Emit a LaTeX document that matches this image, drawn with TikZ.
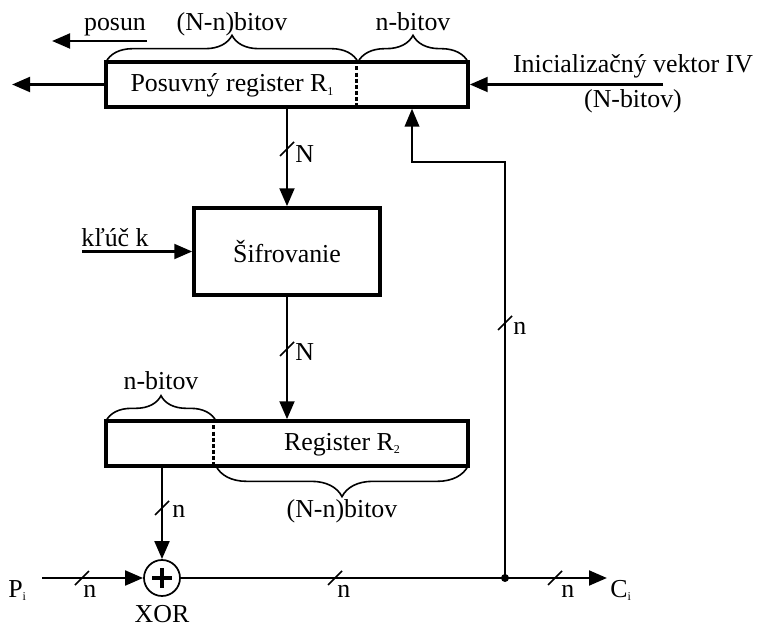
\documentclass[tikz,border=0pt]{standalone}
\usepackage{fontspec}
\setmainfont{Liberation Serif}
\usepackage{tikz}
\usetikzlibrary{arrows.meta,positioning,decorations.pathreplacing}
\tikzset{
  reg/.style={draw,line width=2.6pt,inner sep=0pt},
  arr/.style={-{Triangle[length=13.5pt,width=11pt]},line width=2.2pt},
  thinarr/.style={-{Triangle[length=13.5pt,width=11pt]},line width=1.4pt},
  brc/.style={decorate,decoration={brace,amplitude=#1},line width=1.2pt},
  txt/.style={font=\fontsize{19.4}{22}\selectfont,inner sep=0pt,anchor=base},
  tick/.style={line width=1.3pt}
}
\newcommand{\idx}[1]{\raisebox{-0.3ex}{\fontsize{9}{9}\selectfont #1}}
% width mark on a line: name, position, label offset, label
\newcommand{\bits}[4]{%
  \draw[tick,shift={(#2)}] (-7,7) -- (7,-7);
  \path[shift={(#2)}] (#3) node[txt,anchor=base west] (#1) {#4};}

\begin{document}
\begin{tikzpicture}[x=0.75pt,y=-0.75pt]
  \useasboundingbox (0,0) rectangle (763,630);
  \node[reg,minimum width=271.5pt,minimum height=33.75pt] (reg1) at (287,84.5) {};
  \node[reg,minimum width=139.5pt,minimum height=65.25pt] (sifr) at (287,251.5) {};
  \node[reg,minimum width=271.5pt,minimum height=33.75pt] (reg2) at (287,443.5) {};
  \node[draw,circle,line width=1.3pt,minimum size=27pt,inner sep=0pt] (xor) at (162,578) {};
  \draw[line width=3pt] (xor.center) ++(-10,0) -- ++(20,0) (xor.center) ++(0,-10) -- ++(0,20);

  \draw[line width=2.4pt,dash pattern=on 3pt off 1.6pt] (reg1.north west) ++(252,0) -- ++(0,45);
  \draw[line width=2.4pt,dash pattern=on 3pt off 1.6pt] (reg2.north west) ++(109,0) -- ++(0,45);

  \node[txt] (r1name) at (232,92) {Posuvný register R\idx{1}};
  \node[txt] (sname) at (287,263) {Šifrovanie};
  \node[txt] (r2name) at (342,450) {Register R\idx{2}};

  \draw[brc=20pt] (106,62) -- (358,62);
  \draw[brc=20pt] (358,62) -- (468,62);
  \draw[brc=19pt] (106,421) -- (216,421);
  \draw[brc=23pt] (468,466) -- (216,466);
  \node[txt] (nnb1) at (232,31) {(N-n)bitov};
  \node[txt] (nb1) at (413,31) {n-bitov};
  \node[txt] (nb2) at (161,390) {n-bitov};
  \node[txt] (nnb2) at (342,517) {(N-n)bitov};

  \node[txt] (posun) at (115,31) {posun};
  \coordinate (shA) at (147,41);
  \coordinate (shB) at (52,41);
  \draw[arr] (shA) -- (shB);
  \coordinate (rout) at (12,84.5);
  \draw[arr] (reg1.west) -- (rout);

  \node[txt] (iv) at (633,73) {Inicializačný vektor IV};
  \node[txt] (ivn) at (633,108) {(N-bitov)};
  \coordinate (ivin) at (663,84.5);
  \draw[arr] (ivin) -- (reg1.east);

  \node[txt] (key) at (115,247) {kľúč k};
  \coordinate (keyin) at (82,251.5);
  \draw[arr] (keyin) -- (sifr.west);

  \draw[arr] (reg1.south) -- (sifr.north);
  \draw[arr] (sifr.south) -- (reg2.north);
  \draw[arr] (xor.north |- reg2.south) -- (xor.north);
  \bits{t1}{287,149}{8,14}{N}
  \bits{t2}{287,349}{8,12}{N}
  \bits{t3}{162,508}{10,9}{n}

  % data bus and feedback of the ciphertext
  \node[txt,anchor=base west] (pin) at (8,597) {P\idx{i}};
  \coordinate (busin) at (42,578);
  \coordinate (junc) at (505,578);
  \coordinate (busout) at (607,578);
  \node[txt,anchor=base west] (cout) at (610,597) {C\idx{i}};
  \draw[arr] (busin) -- (xor.west);
  \draw[arr] (xor.east) -- (busout);
  \fill (junc) circle[radius=3pt];
  \bits{t4}{82,578}{1,19}{n}
  \bits{t5}{335,578}{2,19}{n}
  \bits{t6}{555,578}{6,19}{n}
  \node[txt] (xorlbl) at (162,622) {XOR};

  \coordinate (fb) at (412,162);
  \draw[thinarr] (junc) |- (fb) -- (fb |- reg1.south);
  \bits{t7}{505,323}{8,12}{n}
\end{tikzpicture}
\end{document}
